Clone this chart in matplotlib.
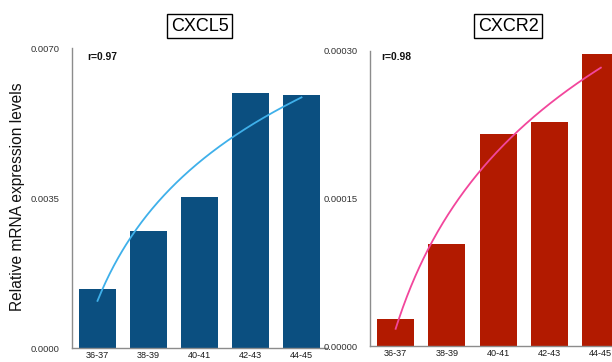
import numpy as np
import matplotlib
matplotlib.use("Agg")
import matplotlib.pyplot as plt
from matplotlib.ticker import FormatStrFormatter

plt.rcParams['font.family'] = ['Liberation Sans', 'DejaVu Sans']

# gestational age groups (weeks)
age_groups = ["36-37", "38-39", "40-41", "42-43", "44-45"]

# mean relative mRNA expression per age group
cxcl5_levels = [0.00138, 0.00273, 0.00352, 0.00595, 0.00590]
cxcr2_levels = [0.0000272, 0.0001037, 0.0002156, 0.0002278, 0.0002966]

# logarithmic trendline y = a + b*ln(group index), index starting at 1
cxcl5_trend = (0.00110, 0.00295)
cxcr2_trend = (0.0000175, 0.000165)

cxcl5_r = "r=0.97"
cxcr2_r = "r=0.98"

cxcl5_ticks = [0.0, 0.0035, 0.0070]
cxcr2_ticks = [0.0, 0.00015, 0.00030]


def draw_panel(ax, values, trend, r_text, ticks, fmt, bar_color, line_color,
               title, title_x, r_pos):
    x = np.arange(len(age_groups))
    ax.bar(x, values, width=0.72, color=bar_color, zorder=2)

    xs = np.linspace(x[0], x[-1], 200)
    a, b = trend
    ax.plot(xs, a + b * np.log(xs + 1), color=line_color, lw=1.3, zorder=3)

    ax.set_xlim(-0.5, len(age_groups) - 0.5)
    ax.set_ylim(ticks[0], ticks[-1])
    ax.set_yticks(ticks)
    ax.yaxis.set_major_formatter(FormatStrFormatter(fmt))
    ax.set_xticks(x)
    ax.set_xticklabels(age_groups)

    for side in ("top", "right"):
        ax.spines[side].set_visible(False)
    for side in ("left", "bottom"):
        ax.spines[side].set_color("#8c8c8c")
        ax.spines[side].set_linewidth(1.0)

    ax.tick_params(axis="y", length=0, pad=9, labelsize=6.8, labelcolor="#333333")
    ax.tick_params(axis="x", length=0, pad=2, labelsize=6.6, labelcolor="#1a1a1a")

    ax.text(r_pos[0], r_pos[1], r_text, transform=ax.transAxes,
            fontsize=7.4, fontweight="bold", va="center", ha="left", color="#111111")

    ax.figure.text(title_x, 0.928, title, fontsize=13, ha="center", va="center",
                   bbox=dict(boxstyle="square,pad=0.2", fc="white", ec="black", lw=1.0))


fig = plt.figure(figsize=(6.12, 3.62), dpi=100)

ax1 = fig.add_axes([72 / 612, 14 / 362, 255 / 612, 300 / 362])
draw_panel(ax1, cxcl5_levels, cxcl5_trend, cxcl5_r, cxcl5_ticks, "%.4f",
           "#0b4f80", "#3fb0ea", "CXCL5", 199.5 / 612, (0.059, 0.97))

ax2 = fig.add_axes([370 / 612, 16 / 362, 256.5 / 612, 295 / 362])
draw_panel(ax2, cxcr2_levels, cxcr2_trend, cxcr2_r, cxcr2_ticks, "%.5f",
           "#b21a00", "#f2469c", "CXCR2", 508 / 612, (0.043, 0.98))

fig.text(18 / 612, 0.456, "Relative mRNA expression levels", rotation=90,
         fontsize=11.2, ha="center", va="center", color="#111111")

fig.savefig("out.png", dpi=100)
